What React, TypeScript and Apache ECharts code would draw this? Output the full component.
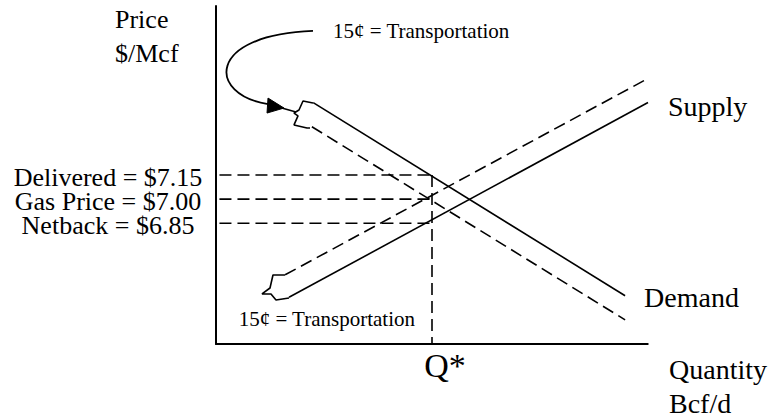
import React, { useEffect, useRef } from "react";
import * as echarts from "echarts";

// ---- data (quantity units on x, $/Mcf on y) ----
const demandSolid: number[][] = [[2.25, 7.6], [9.47, 6.4]];
const demandDashed: number[][] = [[2.22, 7.45], [9.47, 6.25]];
const supplySolid: number[][] = [[1.69, 6.39], [10, 7.6]];
const supplyDashed: number[][] = [[1.6, 6.53], [10, 7.75]];

const qStar = 5;
const priceLevels = [7.15, 7.0, 6.85];
const priceLabels = ["Delivered = $7.15", "Gas Price = $7.00", "Netback = $6.85"];
const yMin = 6.1;
const yMax = 8.2;
const xMin = 0;
const xMax = 10;
const xAxisExtEnd = 10.58;

const guideStartX = 0.08;

// brace near demand curves
const demandBrace: number[][] = [
  [2.245, 7.597], [2.014, 7.61], [1.921, 7.554], [1.806, 7.535],
  [1.898, 7.517], [1.806, 7.461], [2.106, 7.442], [2.176, 7.442],
];
// brace near supply curves
const supplyBrace: number[][] = [
  [1.597, 6.529], [1.319, 6.529], [1.25, 6.448], [1.065, 6.411],
  [1.273, 6.411], [1.389, 6.373], [1.69, 6.386],
];
// curved arrow: start, control 1, control 2, end
const arrowCurve: number[][] = [[2.245, 8.045], [-0.255, 8.02], [-0.185, 7.647], [1.204, 7.591]];
const arrowHead: number[][] = [[1.204, 7.628], [1.574, 7.566], [1.181, 7.535]];
const arrowStem: number[][] = [[1.4, 7.575], [1.852, 7.541]];

const FONT = '"Liberation Serif", "Times New Roman", serif';

export default function App() {
  const ref = useRef<HTMLDivElement>(null);
  useEffect(() => {
    if (!ref.current) return;
    const chart = echarts.init(ref.current, null, { renderer: "svg" });
    const dash = [12, 6];
    const solidStyle = { color: "#000", width: 1.6, type: "solid" as const };
    const dashStyle = { color: "#000", width: 1.6, type: dash };
    const baseLine = {
      type: "line",
      symbol: "none",
      silent: true,
      clip: false,
      animation: false,
    };
    const guides: any[] = priceLevels.map((p, i) => ({
      ...baseLine,
      name: "guide" + i,
      data: [[guideStartX, p], [qStar, p]],
      lineStyle: dashStyle,
    }));
    guides.push({
      ...baseLine,
      name: "qline",
      data: [[qStar, priceLevels[0]], [qStar, yMin]],
      lineStyle: dashStyle,
    });

    const option: any = {
      animation: false,
      backgroundColor: "#fff",
      grid: {
        left: 216,
        right: 124,
        top: 6,
        bottom: 75,
        containLabel: false,
        outerBoundsMode: "none",
      },
      xAxis: {
        type: "value",
        min: xMin,
        max: xMax,
        axisLine: { show: true, onZero: false, lineStyle: { color: "#000", width: 2 } },
        axisTick: { show: false },
        splitLine: { show: false },
        axisLabel: {
          customValues: [qStar],
          formatter: () => "{q|Q*}",
          margin: 4,
          rich: {
            q: { fontSize: 34, fontFamily: FONT, color: "#000", padding: [0, 0, 0, 26] },
          },
        },
      },
      yAxis: {
        type: "value",
        min: yMin,
        max: yMax,
        axisLine: { show: true, onZero: false, lineStyle: { color: "#000", width: 2 } },
        axisTick: { show: false },
        splitLine: { show: false },
        axisLabel: { show: false },
      },
      series: [
        {
          ...baseLine,
          name: "axisExt",
          data: [[xMax, yMin], [xAxisExtEnd, yMin]],
          lineStyle: { color: "#c8c8c8", width: 1 },
        },
        ...guides,
        {
          ...baseLine,
          name: "Demand",
          data: demandSolid,
          lineStyle: solidStyle,
          endLabel: {
            show: true,
            formatter: "Demand",
            distance: 19,
            offset: [0, 2],
            fontSize: 28,
            fontFamily: FONT,
            color: "#000",
          },
        },
        { ...baseLine, name: "Demand shifted", data: demandDashed, lineStyle: dashStyle },
        {
          ...baseLine,
          name: "Supply",
          data: supplySolid,
          lineStyle: solidStyle,
          endLabel: {
            show: true,
            formatter: "Supply",
            distance: 20,
            offset: [0, 4],
            fontSize: 28,
            fontFamily: FONT,
            color: "#000",
          },
        },
        { ...baseLine, name: "Supply shifted", data: supplyDashed, lineStyle: dashStyle },
        { ...baseLine, name: "braceD", data: demandBrace, lineStyle: solidStyle },
        { ...baseLine, name: "braceS", data: supplyBrace, lineStyle: solidStyle },
        { ...baseLine, name: "stem", data: arrowStem, lineStyle: solidStyle },
      ],
    };
    chart.setOption(option);

    const px = (pt: number[]) => chart.convertToPixel({ gridIndex: 0 }, pt) as number[];
    const c = arrowCurve.map(px);
    const h = arrowHead.map(px);
    const txt = (
      text: string,
      x: number,
      y: number,
      size: number,
      align = "left",
      lineHeight?: number
    ) => ({
      type: "text",
      silent: true,
      style: {
        text,
        x,
        y,
        fill: "#000",
        font: `${size}px ${FONT}`,
        textAlign: align,
        textVerticalAlign: "middle",
        ...(lineHeight ? { lineHeight } : {}),
      },
    });
    const priceTexts = priceLevels.map((p, i) => {
      const yy = px([xMin, p])[1];
      return txt(priceLabels[i], 108, yy + 2, 26, "center", 22);
    });
    chart.setOption({
      graphic: [
        {
          type: "bezierCurve",
          silent: true,
          shape: {
            x1: c[0][0], y1: c[0][1],
            cpx1: c[1][0], cpy1: c[1][1],
            cpx2: c[2][0], cpy2: c[2][1],
            x2: c[3][0], y2: c[3][1],
          },
          style: { stroke: "#000", lineWidth: 1.8, fill: null },
        },
        {
          type: "polygon",
          silent: true,
          shape: { points: h },
          style: { fill: "#000", stroke: "#000", lineWidth: 1 },
        },
        ...priceTexts,
        txt("Price", 115, 19, 26),
        txt("$/Mcf", 115, 53, 26),
        txt("15\u00a2 = Transportation", 333, 31, 21),
        txt("15\u00a2 = Transportation", 415, 319, 21, "right"),
        txt("Quantity", 669, 369, 28),
        txt("Bcf/d", 669, 403, 28),
      ],
    });
    return () => chart.dispose();
  }, []);
  return (
    <div
      ref={ref}
      style={{ position: "fixed", left: 0, top: 0, width: 772, height: 419, background: "#fff" }}
    />
  );
}
